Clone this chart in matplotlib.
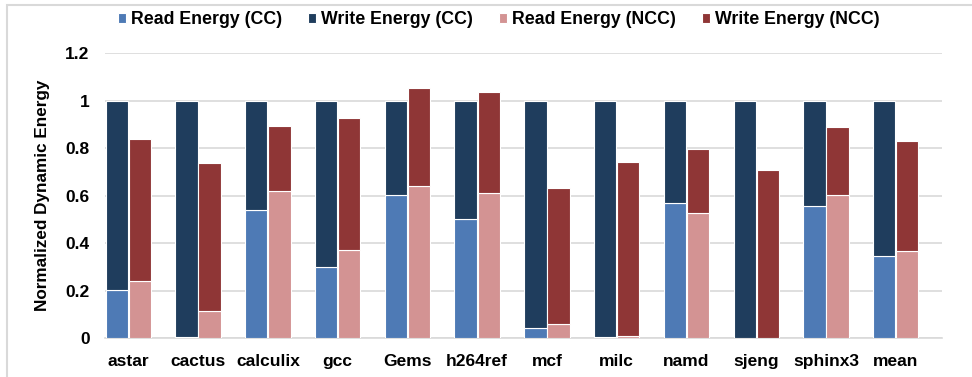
import numpy as np
import matplotlib.pyplot as plt
from matplotlib.patches import Rectangle

plt.rcParams['font.family'] = ['Liberation Sans', 'DejaVu Sans']
plt.rcParams['font.weight'] = 'bold'

# benchmarks
benchmarks = ['astar', 'cactus', 'calculix', 'gcc', 'Gems', 'h264ref',
              'mcf', 'milc', 'namd', 'sjeng', 'sphinx3', 'mean']

# normalized dynamic energy, read / write parts
read_cc = [0.203, 0.005, 0.540, 0.299, 0.602, 0.503, 0.043, 0.005, 0.569, 0.003, 0.557, 0.346]
write_cc = [0.797, 0.995, 0.460, 0.701, 0.398, 0.497, 0.957, 0.995, 0.431, 0.997, 0.443, 0.654]
read_ncc = [0.240, 0.116, 0.621, 0.372, 0.640, 0.613, 0.062, 0.008, 0.529, 0.003, 0.602, 0.366]
write_ncc = [0.599, 0.623, 0.274, 0.555, 0.412, 0.422, 0.569, 0.734, 0.268, 0.704, 0.289, 0.466]

yticks = [0, 0.2, 0.4, 0.6, 0.8, 1, 1.2]
ytick_labels = ['0', '0.2', '0.4', '0.6', '0.8', '1', '1.2']

c_read_cc = '#4E7AB5'
c_write_cc = '#1F3D5D'
c_read_ncc = '#D39393'
c_write_ncc = '#8F3636'

fig = plt.figure(figsize=(9.72, 3.77), dpi=100)
ax = fig.add_axes([0.108, 0.1027, 0.861, 0.7563])

x = np.arange(len(benchmarks))
w = 0.32
ax.bar(x - w/2 - 0.005, read_cc, w, color=c_read_cc, edgecolor='white', linewidth=0.8,
       label='Read Energy (CC)', zorder=3)
ax.bar(x - w/2 - 0.005, write_cc, w, bottom=read_cc, color=c_write_cc, edgecolor='white',
       linewidth=0.8, label='Write Energy (CC)', zorder=3)
ax.bar(x + w/2 + 0.005, read_ncc, w, color=c_read_ncc, edgecolor='white', linewidth=0.8,
       label='Read Energy (NCC)', zorder=3)
ax.bar(x + w/2 + 0.005, write_ncc, w, bottom=read_ncc, color=c_write_ncc, edgecolor='white',
       linewidth=0.8, label='Write Energy (NCC)', zorder=3)

ax.set_xlim(-0.334, 11.66)
ax.set_ylim(0, 1.2)
ax.set_yticks(yticks)
ax.set_yticklabels(ytick_labels)
ax.set_xticks(x)
ax.set_xticklabels(benchmarks)
ax.tick_params(axis='both', length=0, labelsize=12.5)
ax.tick_params(axis='x', pad=11)
ax.tick_params(axis='y', pad=11)
ax.set_ylabel('Normalized Dynamic Energy', fontsize=12.3, fontweight='bold', labelpad=11)

ax.grid(axis='y', color='#D9D9D9', linewidth=1.2, zorder=0)
for s in ['top', 'right', 'left']:
    ax.spines[s].set_visible(False)
ax.spines['bottom'].set_color('#D9D9D9')
ax.spines['bottom'].set_linewidth(1.2)

fig.legend(loc='center', bbox_to_anchor=(0.513, 0.947), ncol=4, frameon=False,
           fontsize=12.8, handlelength=0.45, handleheight=0.45, handletextpad=0.3,
           columnspacing=1.45)

# chart border
fig.patches.append(Rectangle((7/972, -0.1), 1.2, 1 - 5/377 + 0.1, transform=fig.transFigure,
                             fill=False, edgecolor='#D9D9D9', linewidth=1.5))

fig.savefig('out.png', dpi=100)
